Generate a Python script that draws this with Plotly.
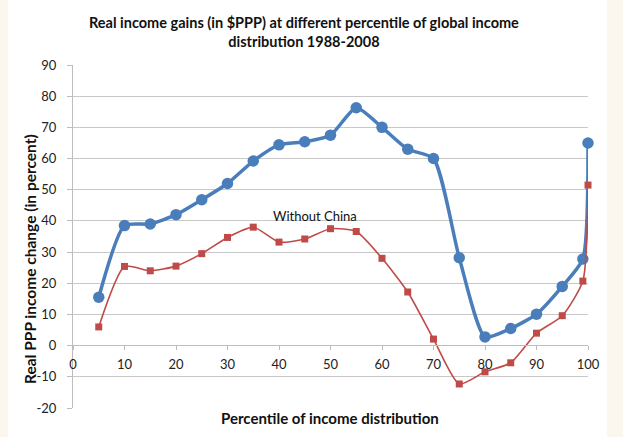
import plotly.graph_objects as go

percentiles = [5, 10, 15, 20, 25, 30, 35, 40, 45, 50, 55, 60, 65, 70, 75, 80, 85, 90, 95, 99, 100]
with_china = [15.5, 38.5, 39, 42, 46.8, 52, 59.2, 64.4, 65.4, 67.5, 76.3, 70, 63, 60, 28.2, 2.8, 5.5, 10.1, 19, 27.8, 65]
without_china = [6, 25.4, 24, 25.5, 29.5, 34.7, 38, 33.2, 34.2, 37.5, 36.6, 28, 17.2, 2.1, -12.3, -8.4, -5.5, 4, 9.6, 20.7, 51.5]

x_ticks = [0, 10, 20, 30, 40, 50, 60, 70, 80, 90, 100]
y_ticks = [-20, -10, 0, 10, 20, 30, 40, 50, 60, 70, 80, 90]
y_tick_labels = ["-20", "-10", "0", "10", "20", "30", "40", "50", "60", "70", "80", "90"]

title_lines = ["Real income gains (in $PPP) at different percentile of global income",
               "distribution 1988-2008"]
x_title = "Percentile of income distribution"
y_title = "Real PPP income change (in percent)"
note_text = "Without China"

FONT = "Lato"
W, H = 623, 437
L, R, T, B = 73, 35, 65, 29
pw, ph = W - L - R, H - T - B

def px_x(p):
    return (p - L) / pw

def px_y(p):
    return (H - B - p) / ph

fig = go.Figure()
fig.add_trace(go.Scatter(
    x=percentiles, y=with_china, mode="lines+markers",
    line=dict(color="#4A7EBB", width=3.5, shape="spline", smoothing=0.6),
    marker=dict(symbol="circle", size=11.5, color="#4A7EBB"),
    cliponaxis=False, showlegend=False, hoverinfo="skip"))
fig.add_trace(go.Scatter(
    x=percentiles, y=without_china, mode="lines+markers",
    line=dict(color="#BE4B48", width=1.6, shape="spline", smoothing=0.6),
    marker=dict(symbol="square", size=7, color="#BE4B48"),
    cliponaxis=False, showlegend=False, hoverinfo="skip"))

fig.update_layout(
    width=W, height=H,
    margin=dict(l=L, r=R, t=T, b=B, autoexpand=False),
    paper_bgcolor="#FCF7EE", plot_bgcolor="white",
    font=dict(family=FONT, size=13, color="#222222"),
    xaxis=dict(range=[0, 100], tickvals=x_ticks, showgrid=False, showline=True,
               linecolor="#BDBDBD", linewidth=1, ticks="outside", ticklen=4,
               tickcolor="#BDBDBD", anchor="free", position=px_y(345),
               ticklabelstandoff=3,
               zeroline=False, tickfont=dict(size=13, color="#222222")),
    yaxis=dict(range=[-20, 90], tickvals=y_ticks, ticktext=y_tick_labels,
               showgrid=True, gridcolor="#C8C8C8",
               showline=True, linecolor="#BDBDBD", ticks="outside", ticklen=5,
               tickcolor="#BDBDBD", zeroline=False, ticklabelstandoff=8,
               tickfont=dict(size=13, color="#222222")),
    shapes=[dict(type="rect", xref="paper", yref="paper", layer="below",
                 x0=px_x(8), x1=px_x(607), y0=px_y(437), y1=px_y(0),
                 fillcolor="white", line=dict(width=0))],
    annotations=[
        dict(text="<b>" + title_lines[0] + "</b><br><b>" + title_lines[1] + "</b>",
             xref="paper", yref="paper", x=px_x(304), y=px_y(32),
             xanchor="center", yanchor="middle", showarrow=False,
             font=dict(family=FONT, size=14.5, color="#111111")),
        dict(text="<b>" + x_title + "</b>", xref="paper", yref="paper",
             x=px_x(330), y=px_y(418), xanchor="center", yanchor="middle",
             showarrow=False, font=dict(family=FONT, size=15, color="#111111")),
        dict(text="<b>" + y_title + "</b>", xref="paper", yref="paper",
             x=px_x(30), y=px_y(259), xanchor="center", yanchor="middle",
             textangle=-90, showarrow=False,
             font=dict(family=FONT, size=15.5, color="#111111")),
        dict(text=note_text, x=47, y=41.5, xref="x", yref="y",
             xanchor="center", yanchor="middle", showarrow=False,
             font=dict(family=FONT, size=13, color="#111111")),
    ],
)

fig.write_html("out.html", config={"displayModeBar": False},
               post_script="document.body.style.margin='0';document.body.style.background='#FCF7EE';")
